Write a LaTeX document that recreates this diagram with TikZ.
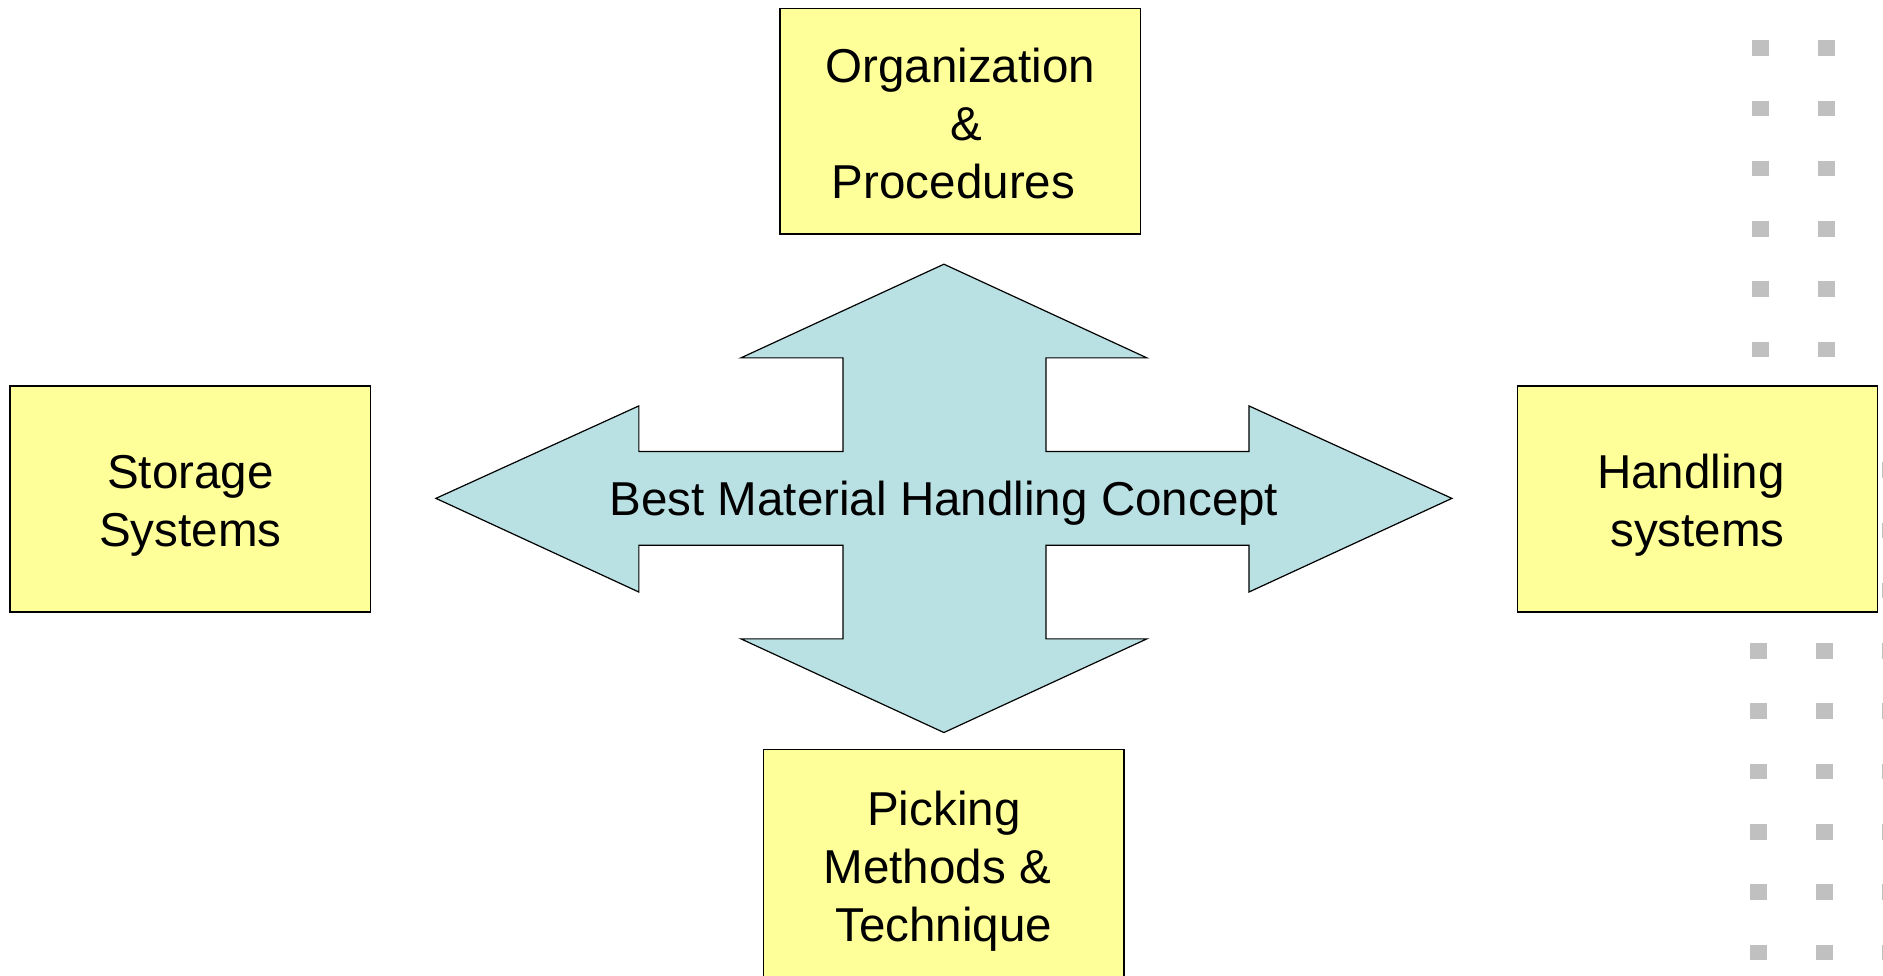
\documentclass[tikz,border=0pt]{standalone}
\usepackage{fontspec}
\setmainfont{Liberation Sans}
\definecolor{boxyellow}{HTML}{FFFF99}
\definecolor{arrowblue}{HTML}{B9E0E3}
\definecolor{dotgrey}{HTML}{C0C0C0}
\newcommand{\mystrut}{\rule[-8.5pt]{0pt}{48.3pt}}
\newcommand{\myspc}{\rule{11pt}{0pt}}
\tikzset{
  topicbox/.style={draw=black, line width=1.2pt, fill=boxyellow, minimum width=300pt, minimum height=188pt, inner sep=0pt, align=center, font=\fontsize{39.6pt}{48.3pt}\selectfont},
  bigarrow/.style={draw=black, line width=1pt, fill=arrowblue, line join=miter},
  dotsq/.style={fill=dotgrey},
  concepttext/.style={font=\fontsize{39.6pt}{48.3pt}\selectfont, inner sep=0pt}
}
\begin{document}
\begin{tikzpicture}[x=1pt,y=1pt]
\useasboundingbox (0,0) rectangle (1568,812);
% decorative dot grid
\foreach \k in {0,...,15}{
  \pgfmathsetmacro{\yy}{812-(40+50.2*\k)}
  \ifnum\k<7
    \foreach \xx in {1466,1521}{
      \fill[dotsq] (\xx-7,\yy-6.5) rectangle (\xx+7,\yy+6.5);
    }
  \else
    \foreach \xx in {1464.5,1519.5,1574.5}{
      \fill[dotsq] (\xx-7,\yy-6.5) rectangle (\xx+7,\yy+6.5);
    }
  \fi
}
% four-way arrow, centre (786,397)
\draw[bigarrow]
  (786,592) -- (955,514) -- (871,514) -- (871,436) -- (1040,436) -- (1040,474)
  -- (1209,397) -- (1040,319) -- (1040,358) -- (871,358) -- (871,280) -- (955,280)
  -- (786,202) -- (617,280) -- (702,280) -- (702,358) -- (532,358) -- (532,319)
  -- (363,397) -- (532,474) -- (532,436) -- (702,436) -- (702,514) -- (617,514)
  -- cycle;
\node[concepttext] (concept) at (786,393) {Best Material Handling Concept};
% boxes
\node[topicbox] (org) at (799.5,711) {\mystrut Organization\\\myspc\mystrut\&\\\mystrut Procedures\myspc};
\node[topicbox] (storage) at (158.5,396.5) {\mystrut Storage\\\mystrut Systems};
\node[topicbox] (handling) at (1413.5,396.5) {\mystrut Handling\myspc\\\mystrut systems};
\node[topicbox, minimum height=192pt] (picking) at (786,92) {\mystrut Picking\\\mystrut Methods \&\myspc\\\mystrut Technique};
\end{tikzpicture}
\end{document}
